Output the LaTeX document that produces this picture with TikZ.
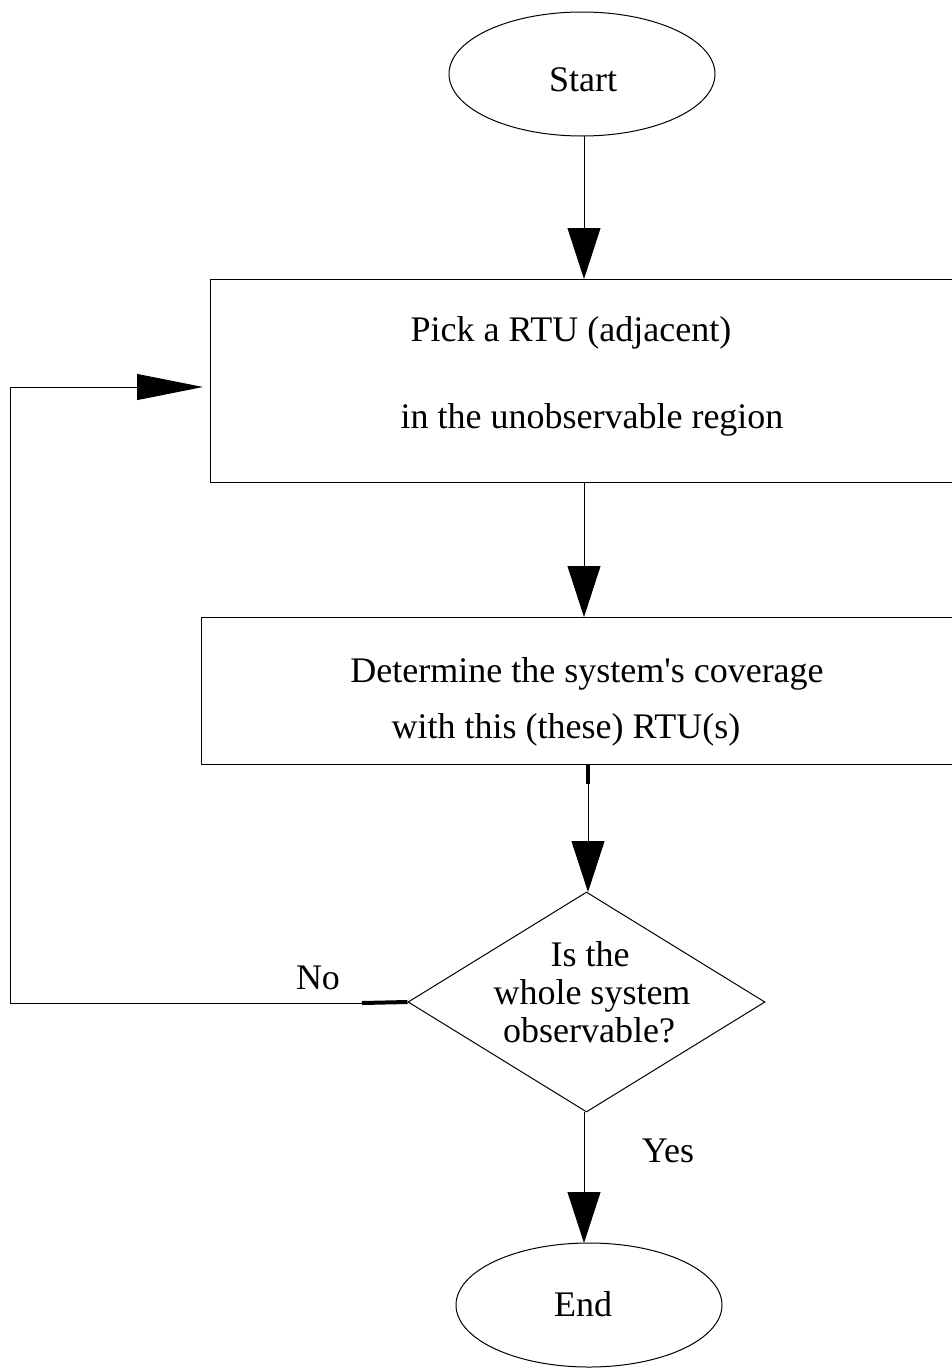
\documentclass[tikz,border=0pt]{standalone}
\usepackage{fontspec}
\setmainfont{Liberation Serif}[Ligatures=TeXOff]
\usetikzlibrary{arrows.meta,shapes.geometric}
\begin{document}
\begin{tikzpicture}[x=1pt,y=-1pt,
  line/.style={draw=black,line width=1pt},
  flow/.style={line,-{Triangle[length=51pt,width=33pt]}},
  back/.style={line,-{Triangle[length=66pt,width=26pt]}},
  stub/.style={draw=black,line width=4pt},
  terminal/.style={ellipse,draw=black,line width=1pt,inner sep=0pt,
    minimum width=266pt,minimum height=124pt},
  stepbox/.style={rectangle,draw=black,line width=1pt,inner sep=0pt},
  decision/.style={diamond,draw=black,line width=1pt,inner sep=0pt,
    minimum width=357pt,minimum height=220pt},
  txt/.style={font=\fontsize{36}{40}\selectfont,inner sep=0pt,anchor=base}]
\useasboundingbox (0,0) rectangle (952,1368);
\clip (0,0) rectangle (952,1368);

% shapes
\node[terminal] (start) at (582,74) {};
\node[stepbox,minimum width=790pt,minimum height=203pt] (pick) at (605,380.5) {};
\node[stepbox,minimum width=799pt,minimum height=147pt] (cover) at (600.5,690.5) {};
\node[decision] (check) at (586.5,1002) {};
\node[terminal] (end) at (589,1305) {};

% texts
\node[txt] (tstart) at (583,91) {Start};
\node[txt] (tpick1) at (571,341) {Pick a RTU (adjacent)};
\node[txt] (tpick2) at (592,428) {in the unobservable region};
\node[txt] (tcov1) at (587,682) {Determine the system's coverage};
\node[txt] (tcov2) at (566,738) {with this (these) RTU(s)};
\node[txt] (tchk1) at (590,966) {Is the};
\node[txt] (tchk2) at (592,1004) {whole system};
\node[txt] (tchk3) at (589,1042) {observable?};
\node[txt] (tend) at (583,1316) {End};
\node[txt] (tno) at (318,989) {No};
\node[txt] (tyes) at (668,1162) {Yes};

% connector points
\coordinate (s1) at (584,136);
\coordinate (p1) at (584,279);
\coordinate (p2) at (584,482);
\coordinate (c1) at (584,617);
\coordinate (c2) at (588,764);
\coordinate (c3) at (588,784);
\coordinate (d1) at (588,892);
\coordinate (d2) at (584,1112);
\coordinate (e1) at (584,1243);
\coordinate (n1) at (362,1003);
\coordinate (n2) at (10,1003);
\coordinate (n3) at (10,387);
\coordinate (n4) at (203,387);

% connectors
\draw[flow] (s1) -- (p1);
\draw[flow] (p2) -- (c1);
\draw[stub] (c2) -- (c3);
\draw[flow] (c3) -- (d1);
\draw[flow] (d2) -- (e1);
\draw[stub] (check.west) -- (n1);
\draw[back] (n1) -- (n2) -- (n3) -- (n4);
\end{tikzpicture}
\end{document}
